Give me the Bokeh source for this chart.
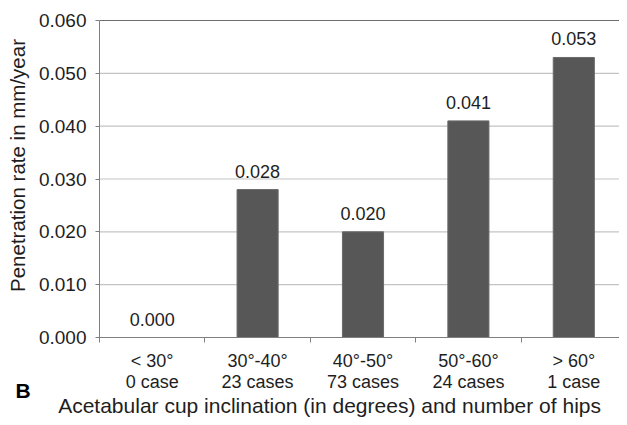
import math
from bokeh.plotting import figure
from bokeh.models import (ColumnDataSource, FixedTicker, LabelSet, Range1d,
                          NumeralTickFormatter, LinearAxis)
from bokeh.core.properties import value
from bokeh.embed import file_html
from bokeh.resources import INLINE

# ---- data ----
categories = ["< 30°\n0 case", "30°-40°\n23 cases", "40°-50°\n73 cases",
              "50°-60°\n24 cases", "> 60°\n1 case"]
penetration = [0.000, 0.028, 0.020, 0.041, 0.053]
value_labels = ["0.000", "0.028", "0.020", "0.041", "0.053"]
y_ticks = [0.0, 0.01, 0.02, 0.03, 0.04, 0.05, 0.06]
y_title = "Penetration rate in mm/year"
x_title = "Acetabular cup inclination (in degrees) and  number of hips"
panel_letter = "B"

# ---- layout (pixels on the canvas) ----
W, H = 619, 417
FL, FR, FT, FB = 99, 626, 20, 337      # plot-area box (right edge runs off canvas)
FONT = "Liberation Sans"
TXT = "#1e1e1e"
AXIS = "#7f7f7f"

n = len(categories)
ytop = y_ticks[-1]
spx = (FR - FL) / n
spy = (FB - FT) / ytop
x_start, x_end = -FL / spx, n + (W - FR) / spx
y_start, y_end = -(H - FB) / spy, ytop + FT / spy


def dx(px):
    return x_start + px / spx


def dy(py):
    return y_end - py / spy


centers = [i + 0.5 for i in range(n)]
src = ColumnDataSource(dict(x=centers, top=penetration, lab=value_labels))

p = figure(width=W, height=H, output_backend="svg", toolbar_location=None,
           x_range=Range1d(x_start, x_end), y_range=Range1d(y_start, y_end),
           min_border=0, x_axis_location=None, y_axis_location=None)
p.min_border_left = p.min_border_right = p.min_border_top = p.min_border_bottom = 0
p.outline_line_color = None
p.grid.visible = False

# horizontal gridlines (top one darker), from the y tick list
grid_y = y_ticks[1:]
p.segment(x0=[0] * len(grid_y), x1=[n] * len(grid_y), y0=grid_y, y1=grid_y,
          line_color=["#c4c4c4"] * (len(grid_y) - 1) + ["#6e6e6e"],
          line_width=1.2)

p.vbar(x="x", top="top", width=0.39, source=src, fill_color="#575757",
       line_color="#6a6a6a", line_width=1)

p.add_layout(LabelSet(x="x", y="top", text="lab", source=src, y_offset=12,
                      text_align="center", text_baseline="bottom",
                      text_font=value(FONT), text_font_size="18px",
                      text_color=TXT))

yax = LinearAxis(fixed_location=0, bounds=(y_ticks[0], ytop),
                 ticker=FixedTicker(ticks=y_ticks),
                 formatter=NumeralTickFormatter(format="0.000"))
yax.axis_line_color = AXIS
yax.major_tick_line_color = AXIS
yax.major_tick_out = 4
yax.major_tick_in = 0
yax.minor_tick_line_color = None
yax.major_label_standoff = 9
yax.major_label_text_font = FONT
yax.major_label_text_font_size = "19px"
yax.major_label_text_color = TXT
p.add_layout(yax, "left")

xax = LinearAxis(fixed_location=0, bounds=(0, n),
                 ticker=FixedTicker(ticks=centers, minor_ticks=list(range(n + 1))))
xax.major_label_overrides = {c: lab for c, lab in zip(centers, categories)}
xax.axis_line_color = AXIS
xax.major_tick_line_color = None
xax.major_tick_out = 0
xax.major_tick_in = 0
xax.minor_tick_line_color = AXIS
xax.minor_tick_out = 5
xax.minor_tick_in = 0
xax.major_label_standoff = 8
xax.major_label_text_font = FONT
xax.major_label_text_font_size = "18px"
xax.major_label_text_color = TXT
xax.major_label_text_line_height = 1.05
p.add_layout(xax, "below")

# titles
p.text(x=[dx(17)], y=[dy(165)], text=[y_title], angle=math.pi / 2,
       text_align="center", text_baseline="middle",
       text_font=value(FONT), text_font_size="20.5px", text_color=TXT)
p.text(x=[dx(332)], y=[dy(405)], text=[x_title], text_align="center",
       text_baseline="middle", text_font=value(FONT),
       text_font_size="21px", text_color=TXT)
p.text(x=[dx(15)], y=[dy(389.5)], text=[panel_letter], text_align="left",
       text_baseline="middle", text_font=value(FONT),
       text_font_size="21px", text_font_style="bold", text_color="#000000")

open("out.html", "w").write(file_html(p, INLINE))
